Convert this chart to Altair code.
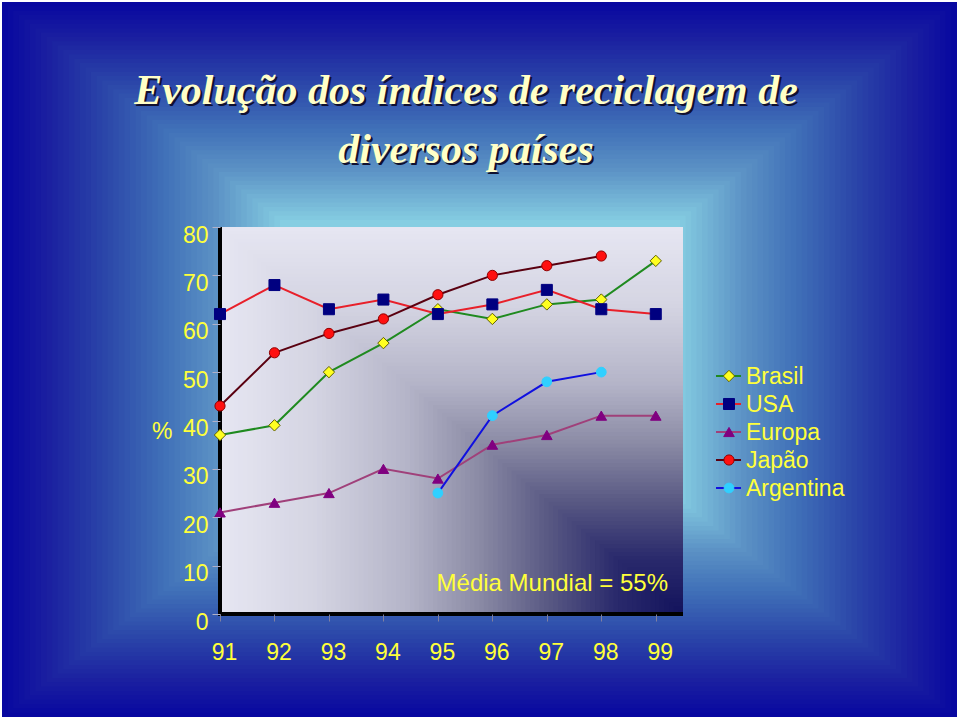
import altair as alt
import pandas as pd
import numpy as np

# ---------------- data ----------------
years = [91, 92, 93, 94, 95, 96, 97, 98, 99]
series_names = ["Brasil", "USA", "Europa", "Japão", "Argentina"]
brasil = [37, 39, 50, 56, 63, 61, 64, 65, 73]
usa = [62, 68, 63, 65, 62, 64, 67, 63, 62]
europa = [21, 23, 25, 30, 28, 35, 37, 41, 41]
japao = [43, 54, 58, 61, 66, 70, 72, 74]          # 91..98
argentina_years = [95, 96, 97, 98]
argentina = [25, 41, 48, 50]
y_ticks = [0, 10, 20, 30, 40, 50, 60, 70, 80]
title_lines = ["Evolução dos índices de reciclagem de", "diversos países"]
note_text = "Média Mundial = 55%"

line_colors = ["#1f8a1f", "#e8202a", "#a0407a", "#5a0010", "#1010e0"]
marker_fill = ["#ffff20", "#000080", "#800080", "#ff1010", "#30d0ff"]
marker_stroke = ["#606000", "#000080", "#800080", "#900000", "#30d0ff"]
marker_size = [130, 95, 95, 100, 100]
shapes = ["diamond", "square", "triangle-up", "circle", "circle"]

rows = []
for name, vals, yrs in [("Brasil", brasil, years), ("USA", usa, years),
                        ("Europa", europa, years), ("Japão", japao, years[:8]),
                        ("Argentina", argentina, argentina_years)]:
    for yr, v in zip(yrs, vals):
        rows.append({"ano": yr, "serie": name, "valor": v})
df = pd.DataFrame(rows)

# ---------------- layout ----------------
W, H = 463, 387
LEFT, TOP = 220, 227
FW, FH = 960, 720


def interp(stops, t):
    ts = [s[0] for s in stops]
    cols = [s[1] for s in stops]
    for i in range(len(ts) - 1):
        if ts[i] <= t <= ts[i + 1]:
            f = (t - ts[i]) / (ts[i + 1] - ts[i])
            a = [int(cols[i][k:k + 2], 16) for k in (1, 3, 5)]
            b = [int(cols[i + 1][k:k + 2], 16) for k in (1, 3, 5)]
            c = [round(a[j] + (b[j] - a[j]) * f) for j in range(3)]
            return "#%02x%02x%02x" % tuple(c)
    return cols[-1]


# outer rectangular-gradient frame (decoration)
frame_stops = [(0, "#0808a0"), (0.15, "#1a1ea0"), (0.35, "#2a44a8"),
               (0.57, "#4070b8"), (0.75, "#5a90c4"), (1.0, "#86cee2")]
N = 50
core = (280, 220, 680, 500)
frame = []
for i in range(N + 1):
    t = i / N
    x1 = 2 + t * (core[0] - 2)
    y1 = 2 + t * (core[1] - 2)
    x2 = (FW - 3) - t * ((FW - 3) - core[2])
    y2 = (FH - 3) - t * ((FH - 3) - core[3])
    frame.append({"x": x1 - LEFT, "x2": x2 - LEFT, "y": y1 - TOP, "y2": y2 - TOP,
                  "c": interp(frame_stops, t)})
frame_df = pd.DataFrame(frame)

# plot-area gradient from bottom-right corner (decoration)
plot_stops = [(0, "#12125c"), (0.15, "#2a2a6c"), (0.3, "#5a5a84"), (0.45, "#8c8ca6"),
              (0.6, "#b4b4c8"), (0.8, "#d4d4e2"), (1.0, "#e6e6f2")]
M = 100
pa = []
for i in range(M, -1, -1):
    s = i / M
    pa.append({"x": W * (1 - s), "x2": W, "y": H * (1 - s), "y2": H,
               "c": interp(plot_stops, s)})
pa_df = pd.DataFrame(pa)


def deco(d):
    return alt.Chart(d).mark_rect(strokeWidth=0).encode(
        x=alt.X("x:Q", scale=None, axis=None), x2="x2:Q",
        y=alt.Y("y:Q", scale=None, axis=None), y2="y2:Q",
        fill=alt.Fill("c:N", scale=None, legend=None))


# black axis lines drawn below the markers
ax_src = alt.Chart(pd.DataFrame({"a": [0]}))
y_axis_line = ax_src.mark_rule(color="black", strokeWidth=4).encode(
    x=alt.value(0), y=alt.value(0), y2=alt.value(H + 2))
x_axis_line = ax_src.mark_rule(color="black", strokeWidth=4).encode(
    x=alt.value(-2), x2=alt.value(W), y=alt.value(H))

xs = alt.Scale(domain=[91, 99.5], nice=False, zero=False)
ys = alt.Scale(domain=[0, 80], nice=False)
cscale = alt.Scale(domain=series_names, range=line_colors)
fscale = alt.Scale(domain=series_names, range=marker_fill)
sscale = alt.Scale(domain=series_names, range=marker_stroke)
shscale = alt.Scale(domain=series_names, range=shapes)
szscale = alt.Scale(domain=series_names, range=marker_size)

YEL = "#ffff3a"
FONT = "Liberation Sans"

lines = alt.Chart(df).mark_line(strokeWidth=2).encode(
    x=alt.X("ano:Q", scale=xs, title=None,
            axis=alt.Axis(values=years, format="d", labelFontSize=23, labelFont=FONT,
                          labelColor=YEL, domain=False,
                          tickColor="#8080a0", tickSize=7, labelPadding=20,
                          labelOffset=4, labelFlush=False, grid=False, zindex=1)),
    y=alt.Y("valor:Q", scale=ys, title="%",
            axis=alt.Axis(values=y_ticks, labelFontSize=23, labelFont=FONT,
                          labelColor=YEL, domain=False,
                          tickColor="#b0b0c8", tickSize=8, labelPadding=4,
                          labelOffset=8, labelFlush=False, grid=False, zindex=1,
                          titleAngle=0, titleFontSize=23, titleFont=FONT,
                          titleFontWeight="normal", titleColor=YEL,
                          titleAlign="right", titleBaseline="middle",
                          titleX=-48, titleY=204)),
    color=alt.Color("serie:N", scale=cscale, legend=None),
    detail="serie:N",
)

points = alt.Chart(df).mark_point(filled=True, strokeWidth=1, opacity=1).encode(
    x=alt.X("ano:Q", scale=xs, axis=None),
    y=alt.Y("valor:Q", scale=ys, axis=None),
    fill=alt.Fill("serie:N", scale=fscale, legend=None),
    stroke=alt.Stroke("serie:N", scale=sscale, legend=None),
    shape=alt.Shape("serie:N", scale=shscale, legend=None),
    size=alt.Size("serie:N", scale=szscale, legend=None),
)

note = alt.Chart(pd.DataFrame({"ano": [97.1], "valor": [6.2], "t": [note_text]})).mark_text(
    fontSize=24, font=FONT, color=YEL, baseline="middle", align="center").encode(
    x=alt.X("ano:Q", scale=xs, axis=None),
    y=alt.Y("valor:Q", scale=ys, axis=None),
    text="t:N")

# custom legend
leg_df = pd.DataFrame({"serie": series_names, "idx": list(range(len(series_names)))})
leg_base = alt.Chart(leg_df).transform_calculate(ly="149 + datum.idx * 28")
leg_rule = leg_base.mark_rule(strokeWidth=2).encode(
    x=alt.value(496), x2=alt.value(521),
    y=alt.Y("ly:Q", scale=None, axis=None),
    color=alt.Color("serie:N", scale=cscale, legend=None))
leg_pt = leg_base.mark_point(filled=True, strokeWidth=1, opacity=1).encode(
    x=alt.value(509),
    y=alt.Y("ly:Q", scale=None, axis=None),
    fill=alt.Fill("serie:N", scale=fscale, legend=None),
    stroke=alt.Stroke("serie:N", scale=sscale, legend=None),
    shape=alt.Shape("serie:N", scale=shscale, legend=None),
    size=alt.Size("serie:N", scale=szscale, legend=None))
leg_txt = leg_base.mark_text(fontSize=23, font=FONT, color=YEL, align="left",
                             baseline="middle", dy=1).encode(
    x=alt.value(526),
    y=alt.Y("ly:Q", scale=None, axis=None),
    text="serie:N")

# title with shadow
title_df = pd.DataFrame({"t": title_lines, "i": [0, 1]})
tb = alt.Chart(title_df).transform_calculate(ty="-123 + datum.i * 59")
title_shadow = tb.mark_text(fontSize=42, font="Liberation Serif", fontStyle="italic",
                            fontWeight="bold", color="#101030", align="center",
                            baseline="alphabetic", dx=2, dy=2).encode(
    x=alt.value(466 - LEFT), y=alt.Y("ty:Q", scale=None, axis=None), text="t:N")
title_txt = tb.mark_text(fontSize=42, font="Liberation Serif", fontStyle="italic",
                         fontWeight="bold", color="#ffffc8", align="center",
                         baseline="alphabetic").encode(
    x=alt.value(466 - LEFT), y=alt.Y("ty:Q", scale=None, axis=None), text="t:N")

chart = alt.layer(
    deco(frame_df), deco(pa_df), y_axis_line, x_axis_line, lines, points, note,
    leg_rule, leg_pt, leg_txt, title_shadow, title_txt
).resolve_scale(
    x="independent", y="independent", color="independent", fill="independent",
    stroke="independent", shape="independent", size="independent"
).properties(
    width=W, height=H,
    autosize=alt.AutoSizeParams(type="none"),
    padding={"left": LEFT, "top": TOP, "right": FW - LEFT - W, "bottom": FH - TOP - H},
    background="#ffffff",
).configure_view(stroke=None)

chart.save("out.html", embed_options={"renderer": "svg", "actions": False})
